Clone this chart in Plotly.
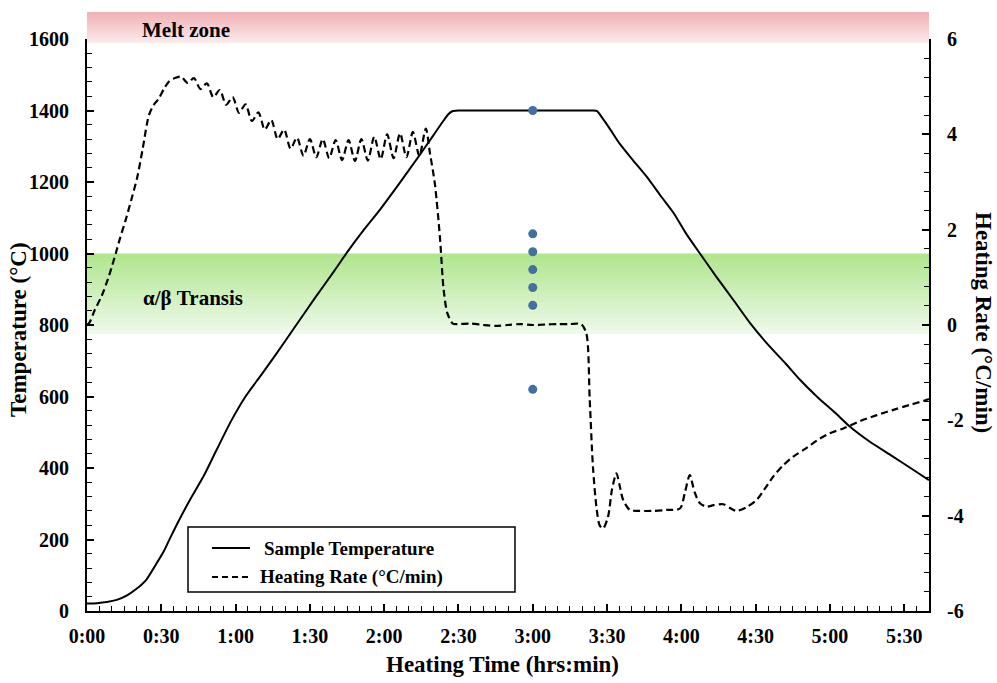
import plotly.graph_objects as go

# ---------------- data ----------------
time_temp = [0, 4, 8, 12, 16, 20, 24, 28, 31, 34, 38, 42, 47, 52, 58, 64, 70, 76, 84, 92,
             100, 105, 112, 118, 126, 134, 140, 144, 146, 147.5, 150, 160, 170, 180, 190, 200,
             204.5, 206, 208, 211, 215, 220, 226, 232, 237, 242, 247.5, 254, 261, 268, 275,
             282, 288, 295, 302, 308, 316, 325, 333, 340]
temp = [21, 22, 25, 31, 43, 62, 88, 132, 167, 210, 265, 316, 376, 446, 529, 600, 657, 715, 795, 875,
        953, 1003, 1068, 1120, 1195, 1272, 1332, 1372, 1390, 1398, 1400, 1400, 1400, 1400, 1400, 1400,
        1400, 1398, 1380, 1350, 1308, 1265, 1215, 1158, 1112, 1055, 1000, 936, 870, 803, 745,
        693, 646, 598, 555, 516, 474, 434, 398, 366]

time_rate = [0, 1, 3, 6, 9, 11.6, 13.5, 15.6, 18, 20.3, 22.5, 25, 27, 29, 31, 33, 35.5,
             38.0, 40.6, 43.2, 45.8, 48.4, 51.0, 53.6, 56.2, 58.8, 61.4, 64.0, 66.6, 69.2, 71.8,
             74.4, 77.0, 79.6, 82.2, 84.8, 87.4, 90.0, 92.6, 95.2, 97.8, 100.4, 103.0, 105.6,
             108.2, 110.8, 113.4, 116.0, 118.6, 121.2, 123.8, 126.4, 129.0, 131.6, 134.2, 136.8,
             138.5, 140.5, 142.5, 144, 145.5, 147.7, 150, 155, 160, 165, 170, 175, 180, 185, 190,
             195, 199.5, 201.6, 203, 204.3, 205.7, 207, 208.4, 210.4, 212, 213.8, 215, 216.5,
             219.2, 223, 228.6, 234, 239.4, 241.5, 243.4, 245.3, 247.5, 250.2, 253, 256.9, 260,
             262.3, 266, 270.4, 273.5, 277.1, 281, 285.2, 290, 296, 300, 305.4, 312, 318.9,
             325.6, 332, 339.1, 340]
rate = [0.0, 0.05, 0.3, 0.62, 1.05, 1.5, 1.85, 2.2, 2.65, 3.1, 3.7, 4.4, 4.62, 4.75, 4.95, 5.1, 5.18,
        5.21, 5.08, 5.18, 4.95, 5.07, 4.78, 4.93, 4.62, 4.78, 4.45, 4.63, 4.28, 4.46, 4.10,
        4.30, 3.90, 4.10, 3.70, 3.93, 3.55, 3.90, 3.52, 3.90, 3.50, 3.88, 3.46, 3.88,
        3.44, 3.90, 3.45, 3.95, 3.48, 4.00, 3.50, 4.02, 3.52, 4.05, 3.55, 4.12,
        3.6, 2.95, 1.85, 0.75, 0.25, 0.03, 0.02, 0.03, 0.0, -0.02, 0.0, 0.02, 0.0, 0.01, 0.02,
        0.02, 0.02, -0.17, -1.57, -2.97, -3.81, -4.2, -4.27, -4.02, -3.45, -3.11, -3.35, -3.67,
        -3.88, -3.9, -3.9, -3.88, -3.85, -3.5, -3.15, -3.5, -3.74, -3.81, -3.78, -3.76, -3.85,
        -3.9, -3.83, -3.67, -3.45, -3.18, -2.95, -2.76, -2.6, -2.38, -2.27, -2.17, -2.02, -1.89,
        -1.78, -1.68, -1.57, -1.55]

dot_time = [180, 180, 180, 180, 180, 180, 180]
dot_temp = [1400, 1055, 1005, 955, 905, 855, 620]

x_tickvals = [0, 30, 60, 90, 120, 150, 180, 210, 240, 270, 300, 330]
x_ticktext = ["0:00", "0:30", "1:00", "1:30", "2:00", "2:30", "3:00", "3:30", "4:00", "4:30", "5:00", "5:30"]
y_tickvals = [0, 200, 400, 600, 800, 1000, 1200, 1400, 1600]
y2_tickvals = [-6, -4, -2, 0, 2, 4, 6]
y2_ticktext = ["-6", "-4", "-2", "0", "2", "4", "6"]

transition_zone = [775, 1000]

# ---------------- figure ----------------
FONT = "Liberation Serif"
W, H = 997, 683
L, R, T, B = 87, 68, 39, 72
PW, PH = W - L - R, H - T - B


def px_x(px):
    return (px - L) / PW


def px_y(py):
    return (H - B - py) / PH


fig = go.Figure()

fig.add_trace(go.Scatter(x=time_temp, y=temp, mode="lines",
                         line=dict(color="black", width=2, shape="spline", smoothing=0.6),
                         name="Sample Temperature", showlegend=False))
fig.add_trace(go.Scatter(x=time_rate, y=rate, mode="lines", yaxis="y2",
                         line=dict(color="black", width=2.2, dash="7px,4px",
                                   shape="spline", smoothing=0.8),
                         name="Heating Rate (°C/min)", showlegend=False))
fig.add_trace(go.Scatter(x=dot_time, y=dot_temp, mode="markers",
                         marker=dict(color="#44709f", size=9),
                         showlegend=False))

shapes = []
# melt zone gradient (above plot area, paper coords); overlapping strips avoid seams
n = 16
top_c = (240, 178, 180)
bot_c = (251, 234, 236)
y_top = px_y(12)
y_bot = px_y(43)
for i in range(n):
    f = i / (n - 1)
    c = tuple(int(top_c[k] + (bot_c[k] - top_c[k]) * f) for k in range(3))
    y1 = y_top - (y_top - y_bot) * i / n
    shapes.append(dict(type="rect", xref="paper", yref="paper", x0=0, x1=1, y0=y_bot, y1=y1,
                       fillcolor="rgb(%d,%d,%d)" % c, line=dict(width=0), layer="below"))

# transition zone gradient (data coords)
n = 20
top_c = (176, 230, 142)
bot_c = (238, 250, 233)
for i in range(n):
    f = i / (n - 1)
    c = tuple(int(top_c[k] + (bot_c[k] - top_c[k]) * f) for k in range(3))
    y1 = transition_zone[1] - (transition_zone[1] - transition_zone[0]) * i / n
    shapes.append(dict(type="rect", xref="paper", yref="y", x0=0, x1=1,
                       y0=transition_zone[0], y1=y1,
                       fillcolor="rgb(%d,%d,%d)" % c, line=dict(width=0), layer="below"))

# manual legend
shapes.append(dict(type="rect", xref="paper", yref="paper", x0=px_x(188), x1=px_x(515),
                   y0=px_y(592), y1=px_y(527), line=dict(color="black", width=1.5),
                   fillcolor="white", layer="above"))
shapes.append(dict(type="line", xref="paper", yref="paper", x0=px_x(212), x1=px_x(250),
                   y0=px_y(548), y1=px_y(548), line=dict(color="black", width=2)))
shapes.append(dict(type="line", xref="paper", yref="paper", x0=px_x(212), x1=px_x(250),
                   y0=px_y(577), y1=px_y(577), line=dict(color="black", width=2.2, dash="6px,4px")))


def bold(s):
    return "<b>%s</b>" % s


def ann(text, x, y, size, **kw):
    d = dict(text=bold(text), xref="paper", yref="paper", x=x, y=y, showarrow=False,
             xanchor="center", yanchor="middle",
             font=dict(family=FONT, size=size, color="black"))
    d.update(kw)
    return d


annotations = [
    ann("Melt zone", px_x(186), px_y(30), 21),
    ann("α/β Transis", px_x(193), px_y(298), 21),
    ann("Sample Temperature", px_x(262), px_y(548), 19, xanchor="left"),
    ann("Heating Rate (°C/min)", px_x(258), px_y(577), 19, xanchor="left"),
    ann("Temperature (°C)", px_x(18), px_y(330), 23, textangle=-90),
    ann("Heating Rate (°C/min)", px_x(984), px_y(322), 23, textangle=90),
    ann("Heating Time (hrs:min)", px_x(502), px_y(664), 23),
]

tickfont = dict(family=FONT, size=20, color="black")

fig.update_layout(
    width=W, height=H,
    margin=dict(l=L, r=R, t=T, b=B),
    paper_bgcolor="white", plot_bgcolor="white",
    showlegend=False,
    shapes=shapes,
    annotations=annotations,
    xaxis=dict(range=[0, 340], tickvals=x_tickvals, ticktext=[bold(t) for t in x_ticktext],
               showline=True, linecolor="black", linewidth=2, showgrid=False, zeroline=False,
               ticks="inside", ticklen=7, tickwidth=1.5, tickcolor="black",
               minor=dict(dtick=5, ticks="inside", ticklen=5, tickwidth=1, tickcolor="black"),
               tickfont=tickfont, ticklabelstandoff=6),
    yaxis=dict(range=[0, 1600], tickvals=y_tickvals, ticktext=[bold(str(v)) for v in y_tickvals],
               showline=True, linecolor="black", linewidth=2, showgrid=False, zeroline=False,
               ticks="inside", ticklen=7, tickwidth=1.5, tickcolor="black",
               minor=dict(dtick=40, ticks="inside", ticklen=5, tickwidth=1, tickcolor="black"),
               tickfont=tickfont, ticklabelstandoff=12),
    yaxis2=dict(range=[-6, 6], tickvals=y2_tickvals, ticktext=[bold(t) for t in y2_ticktext],
                overlaying="y", side="right",
                showline=True, linecolor="black", linewidth=2, showgrid=False, zeroline=False,
                ticks="inside", ticklen=7, tickwidth=1.5, tickcolor="black",
                minor=dict(dtick=0.4, ticks="inside", ticklen=5, tickwidth=1, tickcolor="black"),
                tickfont=tickfont, ticklabelstandoff=12),
)

fig.write_html("out.html")
